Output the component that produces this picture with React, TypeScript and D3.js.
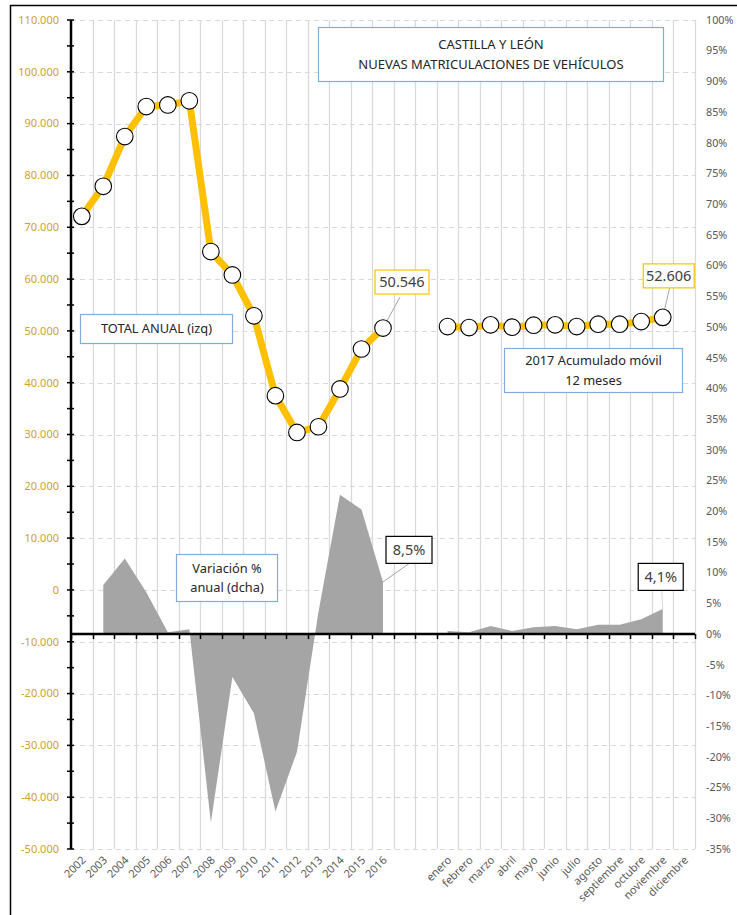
import React from 'react';
import * as d3 from 'd3';

// categorías: años, dos huecos, meses de 2017
const YEARS = ['2002', '2003', '2004', '2005', '2006', '2007', '2008', '2009', '2010', '2011', '2012', '2013', '2014', '2015', '2016'];
const GAPS = ['', ''];
const MONTHS = ['enero', 'febrero', 'marzo', 'abril', 'mayo', 'junio', 'julio', 'agosto', 'septiembre', 'octubre', 'noviembre', 'diciembre'];
const CATEGORIES = [...YEARS, ...GAPS, ...MONTHS];

// total anual (eje izq)
const TOTAL_ANUAL = [72100, 77900, 87500, 93300, 93600, 94400, 65300, 60800, 52900, 37500, 30400, 31500, 38800, 46500, 50546];
// 2017 acumulado móvil 12 meses (eje izq)
const MOVIL_12M = [50830, 50640, 51160, 50710, 51100, 51160, 50830, 51290, 51290, 51800, 52606];
// variación % anual (eje dcha)
const VAR_ANUAL = [null, 8.0, 12.3, 6.8, 0.3, 0.8, -30.7, -7.0, -12.9, -28.9, -19.2, 3.6, 22.7, 20.3, 8.5];
const VAR_MOVIL = [0.5, 0.3, 1.3, 0.5, 1.1, 1.3, 0.8, 1.5, 1.5, 2.4, 4.1];

const LEFT_TICKS = [-50000, -40000, -30000, -20000, -10000, 0, 10000, 20000, 30000, 40000, 50000, 60000, 70000, 80000, 90000, 100000, 110000];
const RIGHT_TICKS = [-35, -30, -25, -20, -15, -10, -5, 0, 5, 10, 15, 20, 25, 30, 35, 40, 45, 50, 55, 60, 65, 70, 75, 80, 85, 90, 95, 100];

const FONT = "'Noto Sans', 'Open Sans', sans-serif";
const GOLD = '#FFC000';
const GRID = '#D9D9D9';
const TXT = '#595959';
const BOX_BLUE = '#7FAEDC';

const es = d3.formatLocale({ decimal: ',', thousands: '.', grouping: [3], currency: ['', ' €'], minus: '-' });
const fmtN = es.format(',');
const fmtP = es.format('.1f');

const W = 737;
const H = 915;
const left = 71;
const right = 695;
const top = 20;
const bottom = 849;

function TextBox({ x, y, w, h, lines, size = 12.8 }: { x: number; y: number; w: number; h: number; lines: string[]; size?: number }) {
  const lh = size * 1.5;
  const y0 = y + h / 2 - ((lines.length - 1) * lh) / 2;
  return (
    <g>
      <rect x={x} y={y} width={w} height={h} fill="#fff" stroke={BOX_BLUE} strokeWidth={1.2} />
      {lines.map((l, i) => (
        <text key={i} x={x + w / 2} y={y0 + i * lh} dy="0.35em" textAnchor="middle" fontSize={size} fill="#262626">{l}</text>
      ))}
    </g>
  );
}

export default function App() {
  const x = d3.scaleBand<number>().domain(CATEGORIES.map((_, i) => i)).range([left, right]).paddingInner(0).paddingOuter(0);
  const bw = x.bandwidth();
  const cx = (i: number) => (x(i) as number) + bw / 2;
  const yL = d3.scaleLinear().domain([-50000, 110000]).range([bottom, top]);
  const yR = d3.scaleLinear().domain([-35, 100]).range([bottom, top]);

  const mStart = YEARS.length + GAPS.length;
  const totals: (number | null)[] = CATEGORIES.map((_, i) =>
    i < YEARS.length ? TOTAL_ANUAL[i] : i >= mStart && i - mStart < MOVIL_12M.length ? MOVIL_12M[i - mStart] : null);
  const vars: (number | null)[] = CATEGORIES.map((_, i) =>
    i < YEARS.length ? VAR_ANUAL[i] : i >= mStart && i - mStart < VAR_MOVIL.length ? VAR_MOVIL[i - mStart] : null);

  const line = d3.line<number | null>()
    .defined(d => d != null)
    .x((_, i) => cx(i))
    .y(d => yL(d as number));
  const area = d3.area<number | null>()
    .defined(d => d != null)
    .x((_, i) => cx(i))
    .y0(yR(0))
    .y1(d => yR(d as number));

  const boundaries = d3.range(CATEGORIES.length + 1).map(i => Math.round(left + i * bw) + 0.5);
  const minorTicks = yL.ticks(32);
  const crisp = (v: number) => Math.round(v) + 0.5;

  // etiquetas de datos
  const iLastYear = YEARS.length - 1;
  const iLastMonth = mStart + MOVIL_12M.length - 1;
  const pY = { x: cx(iLastYear), y: yL(TOTAL_ANUAL[iLastYear]) };
  const pM = { x: cx(iLastMonth), y: yL(MOVIL_12M[MOVIL_12M.length - 1]) };
  const vY = { x: cx(iLastYear), y: yR(VAR_ANUAL[iLastYear] as number) };
  const vM = { x: cx(iLastMonth), y: yR(VAR_MOVIL[VAR_MOVIL.length - 1]) };

  return (
    <svg width={W} height={H} style={{ position: 'absolute', left: 0, top: 0, fontFamily: FONT }}>
      <rect x={0} y={0} width={W} height={H} fill="#fff" />
      <rect x={10.5} y={5.5} width={W + 20} height={H + 20} fill="none" stroke="#000" strokeWidth={1.5} />

      {/* rejilla */}
      {boundaries.slice(1).map((bx, i) => (
        <line key={'v' + i} x1={bx} x2={bx} y1={top} y2={bottom} stroke={GRID} strokeWidth={1.3} />
      ))}
      {LEFT_TICKS.map(t => (
        <line key={'h' + t} x1={left} x2={right} y1={crisp(yL(t))} y2={crisp(yL(t))} stroke={GRID} strokeWidth={1.2} strokeDasharray="5,4" />
      ))}

      {/* variación % */}
      <path d={area(vars) || ''} fill="#A5A5A5" />

      {/* eje x en 0% */}
      <line x1={left} x2={right} y1={yR(0)} y2={yR(0)} stroke="#000" strokeWidth={2.5} />
      {boundaries.map((bx, i) => (
        <line key={'xt' + i} x1={bx} x2={bx} y1={yR(0)} y2={yR(0) + 5} stroke="#000" strokeWidth={1.5} />
      ))}

      {/* eje izquierdo */}
      <line x1={left} x2={left} y1={top} y2={bottom} stroke="#000" strokeWidth={2.5} />
      {minorTicks.map(t => (
        <line key={'lt' + t} x1={left - 4} x2={left + 3} y1={yL(t)} y2={yL(t)} stroke="#000" strokeWidth={1.5} />
      ))}
      {LEFT_TICKS.map(t => (
        <text key={'ll' + t} x={59} y={yL(t)} dy="0.35em" textAnchor="end" fontSize={11} fill="#D1A12A">{fmtN(t)}</text>
      ))}

      {/* eje derecho */}
      {RIGHT_TICKS.map(t => (
        <text key={'rl' + t} x={706} y={yR(t)} dy="0.35em" textAnchor="start" fontSize={10.8} fill={TXT}>{t + '%'}</text>
      ))}

      {/* etiquetas categorías */}
      {CATEGORIES.map((c, i) => c && (
        <text key={'c' + i} transform={`translate(${cx(i) + 2},${bottom + 9}) rotate(-45)`} dy="0.35em" textAnchor="end" fontSize={11} fill={TXT}>{c}</text>
      ))}

      {/* líneas de guía de etiquetas */}
      <line x1={pY.x + 17} y1={pY.y - 31} x2={pY.x} y2={pY.y} stroke="#A6A6A6" strokeWidth={1} />
      <line x1={pM.x + 7} y1={pM.y - 30} x2={pM.x} y2={pM.y} stroke="#A6A6A6" strokeWidth={1} />
      <line x1={vY.x + 27} y1={vY.y - 19} x2={vY.x} y2={vY.y} stroke="#A6A6A6" strokeWidth={1} />
      <line x1={vM.x - 1} y1={vM.y - 18} x2={vM.x} y2={vM.y} stroke="#D9D9D9" strokeWidth={1} />

      {/* total anual y móvil */}
      <path d={line(totals) || ''} fill="none" stroke={GOLD} strokeWidth={7} strokeLinejoin="round" />
      {totals.map((v, i) => v != null && (
        <circle key={'m' + i} cx={cx(i)} cy={yL(v)} r={8.3} fill="#fff" stroke="#000" strokeWidth={1.1} />
      ))}

      {/* cuadros de texto */}
      <TextBox x={318.5} y={27.5} w={345} h={54} lines={['CASTILLA Y LEÓN', 'NUEVAS MATRICULACIONES DE VEHÍCULOS']} size={13} />
      <TextBox x={80.5} y={314.5} w={152} h={29} lines={['TOTAL ANUAL (izq)']} />
      <TextBox x={176.5} y={554.5} w={101} h={47} lines={['Variación %', 'anual (dcha)']} />
      <TextBox x={504.5} y={348.5} w={178} h={44} lines={['2017 Acumulado móvil', '12 meses']} />

      {/* etiquetas de datos */}
      <g>
        <rect x={pY.x - 8} y={pY.y - 58} width={54} height={24} fill="#fff" stroke={GOLD} strokeWidth={1.2} />
        <text x={pY.x + 19} y={pY.y - 46} dy="0.35em" textAnchor="middle" fontSize={14.5} fill="#404040">{fmtN(TOTAL_ANUAL[iLastYear])}</text>
      </g>
      <g>
        <rect x={pM.x - 19.5} y={pM.y - 53.5} width={51} height={24} fill="#fff" stroke={GOLD} strokeWidth={1.2} />
        <text x={pM.x + 6} y={pM.y - 41.5} dy="0.35em" textAnchor="middle" fontSize={14.5} fill="#404040">{fmtN(MOVIL_12M[MOVIL_12M.length - 1])}</text>
      </g>
      <g>
        <rect x={vY.x + 3} y={vY.y - 45.5} width={46} height={27} fill="#fff" stroke="#000" strokeWidth={1.2} />
        <text x={vY.x + 26} y={vY.y - 32} dy="0.35em" textAnchor="middle" fontSize={14.5} fill="#404040">{fmtP(VAR_ANUAL[iLastYear] as number) + '%'}</text>
      </g>
      <g>
        <rect x={vM.x - 24.5} y={vM.y - 45.5} width={45} height={27} fill="#fff" stroke="#000" strokeWidth={1.2} />
        <text x={vM.x - 2} y={vM.y - 32} dy="0.35em" textAnchor="middle" fontSize={14.5} fill="#404040">{fmtP(VAR_MOVIL[VAR_MOVIL.length - 1]) + '%'}</text>
      </g>
    </svg>
  );
}
